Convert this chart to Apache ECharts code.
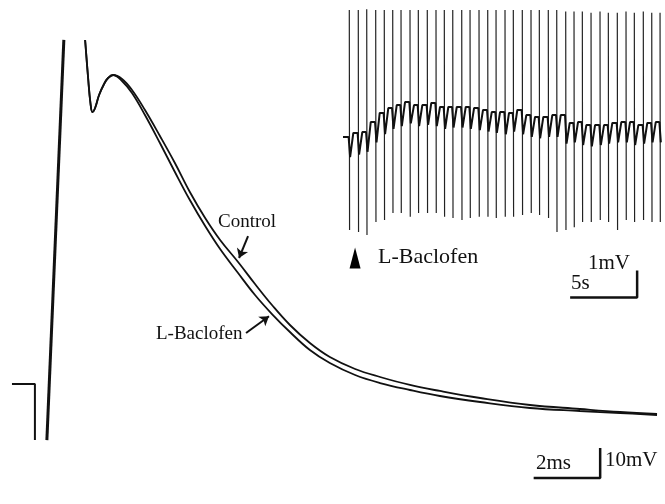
<!DOCTYPE html>
<html><head><meta charset="utf-8">
<script src="https://cdn.jsdelivr.net/npm/echarts@6/dist/echarts.min.js"></script>
<style>html,body{margin:0;padding:0;background:#fff}#c{width:665px;height:504px}</style>
</head><body><div id="c"></div>
<script>
// ---- Main trace (ms, mV) ----
const stepT = [0.36, 1.05, 1.05];
const stepV = [10, 10, -8.7];
const upT = [1.41, 1.92];
const upV = [-8.7, 124.7];
const earlyT = [2.56, 2.65, 2.72, 2.78, 2.86, 2.98, 3.13, 3.25, 3.40];
const earlyV = [124.67, 112, 103.67, 100.67, 102, 106.33, 110, 112, 113];
const decayT = [3.67, 3.97, 4.36, 4.81, 5.26, 5.71, 6.17, 6.62, 7.16, 7.67, 8.18, 8.72, 9.32, 9.92, 10.68, 11.43, 12.33, 13.23, 14.44, 15.94, 17.44, 18.65, 19.76];
const controlV = [111.67, 108, 101.33, 92.67, 83.67, 74, 65.33, 58, 50.67, 43.33, 36.33, 29.67, 23.67, 19, 15, 12.33, 9.67, 7.67, 5.33, 3, 1.67, 0.67, 0];
const baclofenV = [111, 107, 99.67, 90.33, 80.67, 71.33, 62.67, 55, 47, 39.67, 33.33, 27.33, 21.33, 17, 13, 10.33, 8, 6, 4, 2, 1, 0.33, -0.33];

// ---- Inset spike train (s, mV) ----
const spikeT = [0.47, 1.14, 1.77, 2.44, 3.08, 3.71, 4.33, 5.00, 5.62, 6.29, 6.94, 7.56, 8.19, 8.86, 9.48, 10.15, 10.80, 11.42, 12.09, 12.71, 13.38, 14.03, 14.65, 15.32, 15.95, 16.62, 17.24, 17.86, 18.51, 19.18, 19.80, 20.47, 21.12, 21.74, 22.41, 23.04, 23.66];
const plateau = [4.15, 4.30, 4.33, 4.70, 5.04, 5.22, 5.33, 5.44, 5.33, 5.33, 5.41, 5.26, 5.26, 5.26, 5.26, 5.22, 5.15, 5.07, 5.07, 5.04, 5.15, 4.96, 4.89, 4.89, 4.96, 4.96, 4.67, 4.70, 4.59, 4.59, 4.59, 4.67, 4.70, 4.70, 4.59, 4.67, 4.70];
const dip = [3.4, 3.5, 3.6, 3.95, 4.25, 4.45, 4.55, 4.65, 4.55, 4.6, 4.55, 4.45, 4.5, 4.5, 4.45, 4.4, 4.35, 4.3, 4.25, 4.35, 4.25, 4.15, 4.1, 4.15, 4.15, 3.9, 3.95, 3.85, 3.8, 3.85, 3.9, 3.95, 3.95, 3.85, 3.9, 3.95, 3.95];
const spikeTop = [8.85, 8.85, 8.88, 8.85, 8.85, 8.85, 8.85, 8.85, 8.85, 8.85, 8.85, 8.85, 8.85, 8.85, 8.85, 8.85, 8.85, 8.85, 8.85, 8.85, 8.85, 8.85, 8.85, 8.85, 8.85, 8.8, 8.8, 8.8, 8.75, 8.8, 8.75, 8.75, 8.8, 8.75, 8.8, 8.75, 8.75];
const spikeBottom = [0.70, 0.63, 0.52, 1.00, 1.07, 1.33, 1.33, 1.19, 1.33, 1.33, 1.33, 1.19, 1.15, 1.07, 1.15, 1.19, 1.19, 1.15, 1.19, 1.19, 1.26, 1.33, 1.26, 1.15, 0.63, 0.70, 0.81, 1.00, 1.00, 1.07, 1.00, 0.70, 1.07, 1.00, 1.07, 1.00, 1.00];

// scale bars
const mainBarT = [16.05, 18.05, 18.05];
const mainBarV = [-21.3, -21.3, -11.3];
const insetBarT = [16.95, 21.95, 21.95];
const insetBarV = [-1.8, -1.8, -0.8];

const zip = (a, b) => a.map((v, i) => [v, b[i]]);

// spikes (thin) and slow trace (thicker)
const spikes = [];
const slow = [[0, plateau[0]]];
for (let i = 0; i < spikeT.length; i++) {
  const t = spikeT[i];
  spikes.push([t, spikeTop[i]], [t + 0.02, spikeBottom[i]], [t + 0.02, '-']);
  slow.push([t - 0.05, plateau[i]]);
  slow.push([t + 0.06, dip[i]]);
  if (i + 1 < spikeT.length) {
    slow.push([t + 0.3, plateau[i + 1]]);
  }
}

const black = '#111';
const chart = echarts.init(document.getElementById('c'), null, {renderer: 'canvas'});
chart.setOption({
  backgroundColor: '#fff',
  animation: false,
  grid: [
    {left: 0, top: 0, width: 665, height: 504},
    {left: 343, top: 6, width: 321.6, height: 297}
  ],
  xAxis: [
    {type: 'value', gridIndex: 0, min: 0, max: 20, show: false},
    {type: 'value', gridIndex: 1, min: 0, max: 24, show: false}
  ],
  yAxis: [
    {type: 'value', gridIndex: 0, min: -30, max: 138, show: false},
    {type: 'value', gridIndex: 1, min: -2, max: 9, show: false}
  ],
  series: [
    {type: 'line', xAxisIndex: 0, yAxisIndex: 0, data: zip(stepT, stepV), showSymbol: false, lineStyle: {color: black, width: 2}},
    {type: 'line', xAxisIndex: 0, yAxisIndex: 0, data: zip(upT, upV), showSymbol: false, lineStyle: {color: black, width: 3}},
    {type: 'line', xAxisIndex: 0, yAxisIndex: 0, data: zip(earlyT.concat(decayT), earlyV.concat(controlV)), showSymbol: false, smooth: 0.4, lineStyle: {color: black, width: 1.8}},
    {type: 'line', xAxisIndex: 0, yAxisIndex: 0, data: zip(earlyT.concat(decayT), earlyV.concat(baclofenV)), showSymbol: false, smooth: 0.4, lineStyle: {color: black, width: 1.8}},
    {type: 'line', xAxisIndex: 0, yAxisIndex: 0, data: zip(mainBarT, mainBarV), showSymbol: false, lineStyle: {color: black, width: 2.5}},
    {type: 'lines', coordinateSystem: 'cartesian2d', xAxisIndex: 0, yAxisIndex: 0,
      symbol: ['none', 'arrow'], symbolSize: 9,
      lineStyle: {color: black, width: 2, opacity: 1},
      data: [
        {coords: [[7.46, 59.3], [7.19, 52.0]]},
        {coords: [[7.40, 27.0], [8.09, 32.6]]}
      ]},
    {type: 'line', xAxisIndex: 1, yAxisIndex: 1, data: spikes, showSymbol: false, connectNulls: false, lineStyle: {color: '#222', width: 1.2}},
    {type: 'line', xAxisIndex: 1, yAxisIndex: 1, data: slow, showSymbol: false, lineStyle: {color: black, width: 2}},
    {type: 'line', xAxisIndex: 1, yAxisIndex: 1, data: zip(insetBarT, insetBarV), showSymbol: false, lineStyle: {color: black, width: 2.5}},
    {type: 'scatter', xAxisIndex: 1, yAxisIndex: 1, data: [[0.9, -0.33]], symbol: 'triangle', symbolSize: [11, 21], itemStyle: {color: '#000', opacity: 1}}
  ],
  graphic: [
    {type: 'text', left: 218, top: 213, style: {text: 'Control', font: '19px "Liberation Serif"', fill: black}},
    {type: 'text', left: 156, top: 325, style: {text: 'L-Baclofen', font: '19px "Liberation Serif"', fill: black}},
    {type: 'text', left: 378, top: 246, style: {text: 'L-Baclofen', font: '22px "Liberation Serif"', fill: black}},
    {type: 'text', left: 588, top: 253, style: {text: '1mV', font: '21px "Liberation Serif"', fill: black}},
    {type: 'text', left: 571, top: 273, style: {text: '5s', font: '21px "Liberation Serif"', fill: black}},
    {type: 'text', left: 536, top: 453, style: {text: '2ms', font: '21px "Liberation Serif"', fill: black}},
    {type: 'text', left: 605, top: 450, style: {text: '10mV', font: '21px "Liberation Serif"', fill: black}}
  ]
});
</script></body></html>
